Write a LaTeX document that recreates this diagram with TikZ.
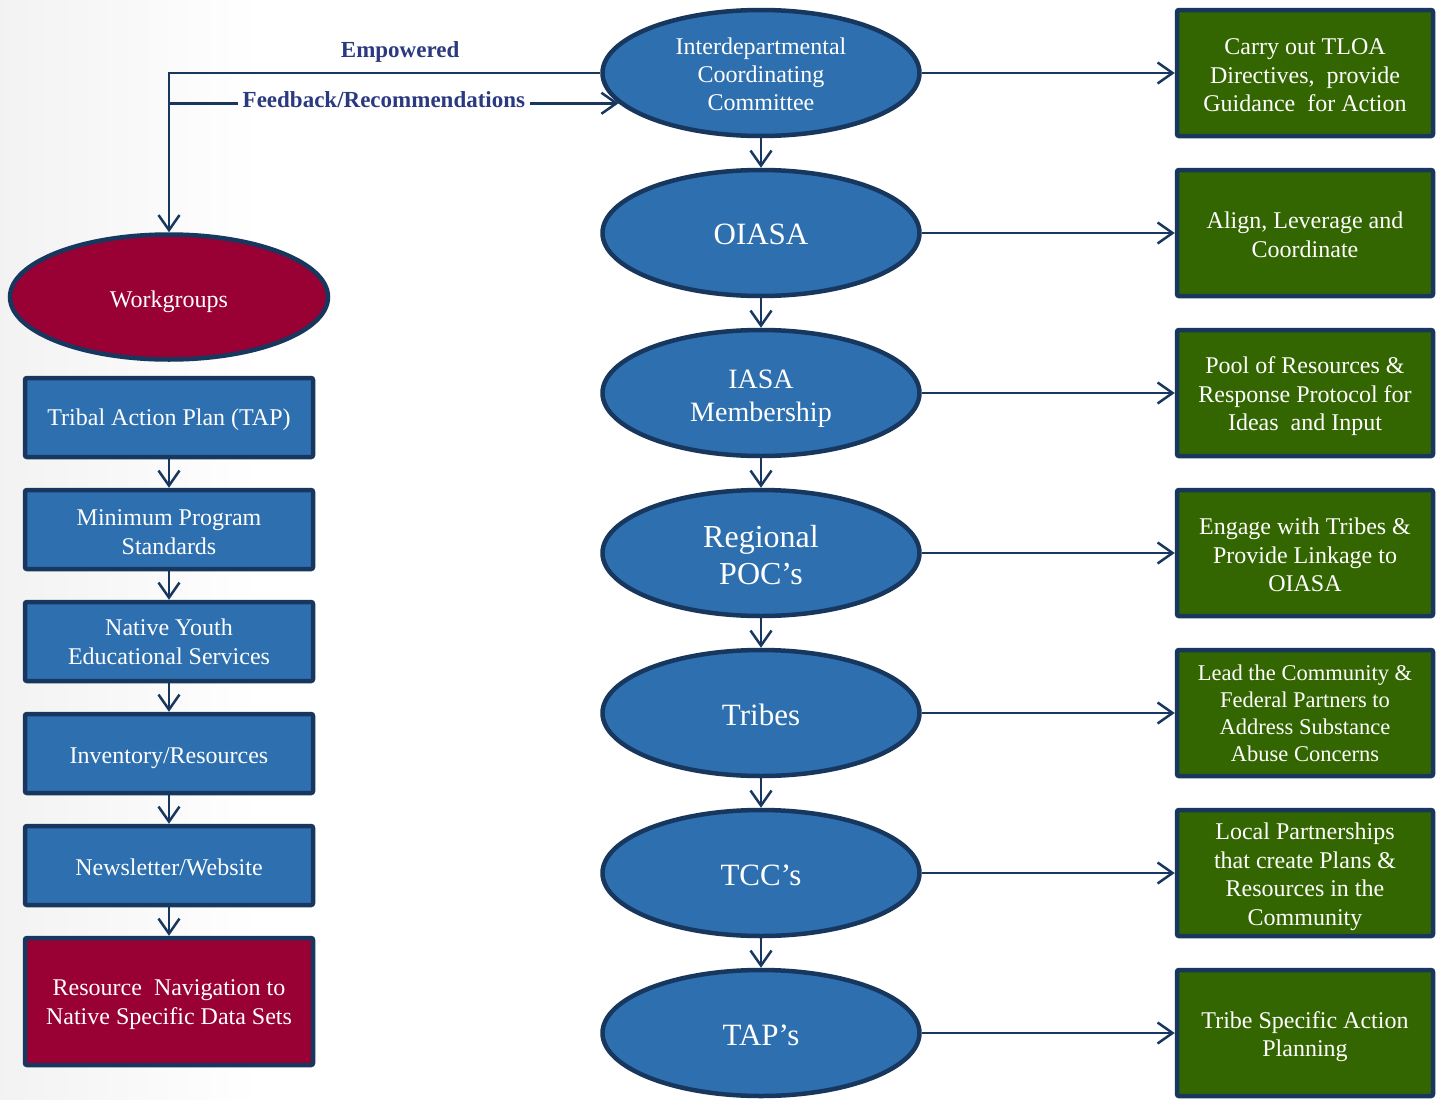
\documentclass[tikz,border=0pt]{standalone}
\usepackage{fontspec}
\setmainfont{Liberation Serif}
\usetikzlibrary{arrows.meta,shapes.geometric}
\definecolor{navy}{HTML}{17375E}
\definecolor{ellblue}{HTML}{2E70AF}
\definecolor{boxgreen}{HTML}{336600}
\definecolor{boxred}{HTML}{990033}
\definecolor{lblcol}{HTML}{2B3A80}
\newcommand\txtlift[1]{\rule{0pt}{#1em}}
\tikzset{
  ell/.style={ellipse, draw=navy, line width=4.5pt, fill=ellblue, text=white,
    minimum width=317pt, minimum height=126pt, inner sep=0pt, align=center},
  gbox/.style={rectangle, draw=navy, line width=4.5pt, fill=boxgreen, text=white,
    rounded corners=2pt, minimum width=256pt, minimum height=126pt, inner sep=0pt,
    align=center, font=\fontsize{24}{28.5}\selectfont},
  lbox/.style={rectangle, draw=navy, line width=4.5pt, fill=ellblue, text=white,
    rounded corners=2pt, minimum width=288pt, minimum height=79pt, inner sep=0pt,
    align=center, font=\fontsize{24}{29}\selectfont},
  arr/.style={draw=navy, line width=2.5pt,
    -{Straight Barb[length=15pt,width=21pt,line width=2.5pt]}},
  lbl/.style={text=lblcol, font=\fontsize{23}{27}\selectfont\bfseries}
}
\begin{document}
\begin{tikzpicture}[x=1pt,y=-1pt]
\useasboundingbox (0,0) rectangle (1441,1100);
\fill[white] (0,0) rectangle (1441,1100);
\shade[left color=black!5, right color=white] (0,0) rectangle (260,1100);

% central column
\node[ell, font=\fontsize{24}{28}\selectfont] (icc) at (761,73) {\txtlift{0.8}Interdepartmental\\Coordinating\\Committee};
\node[ell, font=\fontsize{31}{36}\selectfont] (oiasa) at (761,233) {\txtlift{0.75}OIASA};
\node[ell, font=\fontsize{28}{33}\selectfont] (iasa) at (761,393) {\txtlift{1.05}IASA\\Membership};
\node[ell, font=\fontsize{32}{37}\selectfont] (poc) at (761,553) {\txtlift{0.8}Regional\\POC’s};
\node[ell, font=\fontsize{31}{36}\selectfont] (tribes) at (761,713) {\txtlift{0.8}Tribes};
\node[ell, font=\fontsize{31}{36}\selectfont] (tcc) at (761,873) {\txtlift{0.8}TCC’s};
\node[ell, font=\fontsize{31}{36}\selectfont] (taps) at (761,1033) {\txtlift{0.8}TAP’s};

% right column
\node[gbox] (g1) at (1305,73) {\txtlift{0.85}Carry out TLOA\\Directives,~ provide\\Guidance~ for Action};
\node[gbox] (g2) at (1305,233) {\txtlift{0.85}Align, Leverage and\\Coordinate};
\node[gbox] (g3) at (1305,393) {\txtlift{1.0}Pool of Resources \&\\Response Protocol for\\Ideas~ and Input};
\node[gbox] (g4) at (1305,553) {\txtlift{0.85}Engage with Tribes \&\\Provide Linkage to\\OIASA};
\node[gbox, font=\fontsize{22.5}{27}\selectfont] (g5) at (1305,713) {Lead the Community \&\\Federal Partners to\\Address Substance\\Abuse Concerns};
\node[gbox] (g6) at (1305,873) {\txtlift{1.0}Local Partnerships\\that create Plans \&\\Resources in the\\Community};
\node[gbox] (g7) at (1305,1033) {\txtlift{1.0}Tribe Specific Action\\Planning};

% left column
\node[ell, fill=boxred, minimum width=318pt, minimum height=125pt, font=\fontsize{24}{28}\selectfont] (wg) at (169,297) {\txtlift{1.1}Workgroups};
\node[lbox] (l1) at (169,417.5) {\txtlift{0.9}Tribal Action Plan (TAP)};
\node[lbox] (l2) at (169,529.5) {\txtlift{0.85}Minimum Program\\Standards};
\node[lbox] (l3) at (169,641.5) {Native Youth\\Educational Services};
\node[lbox] (l4) at (169,753.5) {\txtlift{1.05}Inventory/Resources};
\node[lbox] (l5) at (169,865.5) {\txtlift{0.85}Newsletter/Website};
\node[lbox, fill=boxred, minimum height=127pt] (l6) at (169,1001.5) {\txtlift{0.9}Resource~ Navigation to\\Native Specific Data Sets};

% vertical arrows centre
\draw[arr] (icc.south) -- (oiasa.north);
\draw[arr] (oiasa.south) -- (iasa.north);
\draw[arr] (iasa.south) -- (poc.north);
\draw[arr] (poc.south) -- (tribes.north);
\draw[arr] (tribes.south) -- (tcc.north);
\draw[arr] (tcc.south) -- (taps.north);

% right arrows
\draw[arr] (icc.east) -- (g1.west);
\draw[arr] (oiasa.east) -- (g2.west);
\draw[arr] (iasa.east) -- (g3.west);
\draw[arr] (poc.east) -- (g4.west);
\draw[arr] (tribes.east) -- (g5.west);
\draw[arr] (tcc.east) -- (g6.west);
\draw[arr] (taps.east) -- (g7.west);

% left arrows
\draw[arr] (l1.south) -- (l2.north);
\draw[arr] (l2.south) -- (l3.north);
\draw[arr] (l3.south) -- (l4.north);
\draw[arr] (l4.south) -- (l5.north);
\draw[arr] (l5.south) -- (l6.north);

% top connectors
\draw[arr] (icc.west) -| node[lbl, pos=0.232, above=6pt] {Empowered} (wg.north);
\draw[arr] (wg.north |- icc.192) -- node[lbl, pos=0.478, yshift=4pt, fill=white, inner xsep=5pt, inner ysep=1pt] {Feedback/Recommendations} (icc.192);
\end{tikzpicture}
\end{document}
